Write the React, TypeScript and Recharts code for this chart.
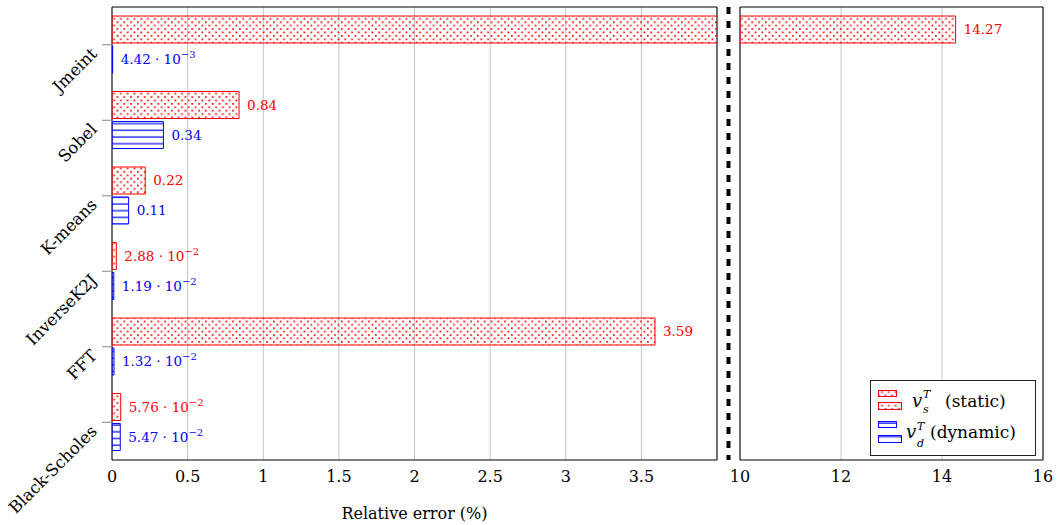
import React from 'react';
import {
  BarChart,
  Bar,
  XAxis,
  YAxis,
  CartesianGrid,
  ReferenceArea,
  LabelList,
  Label,
  Legend,
} from 'recharts';

const benchmarks = ['Jmeint', 'Sobel', 'K-means', 'InverseK2J', 'FFT', 'Black-Scholes'];
const staticErr = [14.27, 0.84, 0.22, 2.88e-2, 3.59, 5.76e-2];
const dynamicErr = [4.42e-3, 0.34, 0.11, 1.19e-2, 1.32e-2, 5.47e-2];
const leftTicks = [0, 0.5, 1, 1.5, 2, 2.5, 3, 3.5];
const rightTicks = [10, 12, 14, 16];

const LEFT_MAX = 4;
const RIGHT_MIN = 10;
const RIGHT_MAX = 16;

const RED = '#ff0000';
const BLUE = '#0000ff';
const GRID = '#c4c4c4';
const FONT = 'DejaVu Serif';

// the right panel only shows what is past the axis break
const leftData = benchmarks.map((name, i) => ({
  name,
  static: staticErr[i],
  dynamic: dynamicErr[i],
}));
const rightData = benchmarks.map((name, i) => ({
  name,
  static: staticErr[i] > RIGHT_MIN ? staticErr[i] : null,
  dynamic: dynamicErr[i] > RIGHT_MIN ? dynamicErr[i] : null,
}));

function ValueText({ value }: { value: number }) {
  if (value >= 0.1) return <>{value.toFixed(2)}</>;
  const exp = Math.floor(Math.log10(value));
  const mant = (value / Math.pow(10, exp)).toFixed(2);
  return (
    <>
      {mant} · 10
      <tspan dy={-6} fontSize={10}>
        {'\u2212' + -exp}
      </tspan>
    </>
  );
}

const makeLabel = (color: string, max: number) => (props: any) => {
  const { x, y, width, height, value } = props;
  if (value == null || value > max) return null;
  return (
    <text
      x={Number(x) + Number(width) + 8}
      y={Number(y) + Number(height) / 2}
      dy="0.36em"
      fill={color}
      fontSize={13.5}
      fontFamily={FONT}
    >
      <ValueText value={Number(value)} />
    </text>
  );
};

const CategoryTick = (props: any) => {
  const { x, y, payload } = props;
  const tx = x - 2;
  const ty = y + 10;
  return (
    <text
      x={tx}
      y={ty}
      textAnchor="end"
      fontSize={16.5}
      fill="#000"
      fontFamily={FONT}
      transform={`rotate(-45, ${tx}, ${ty})`}
    >
      {payload.value}
    </text>
  );
};

function LegendBox() {
  return (
    <svg width={166} height={76} style={{ display: 'block' }} fontFamily={FONT}>
      <rect x={0.5} y={0.5} width={165} height={75} fill="#fff" stroke="#222" />
      <rect x={8.5} y={10.5} width={18} height={6} fill="url(#dots)" stroke={RED} />
      <rect x={8.5} y={22.5} width={23} height={7} fill="url(#dots)" stroke={RED} />
      <rect x={8.5} y={41.5} width={18} height={6} fill="url(#hlines)" stroke={BLUE} />
      <rect x={8.5} y={55.5} width={23} height={7} fill="url(#hlines)" stroke={BLUE} />
      <text x={42} y={27} fontSize={18} fontStyle="italic" fontFamily={FONT}>v</text>
      <text x={53} y={18} fontSize={11} fontStyle="italic" fontFamily={FONT}>T</text>
      <text x={53} y={33} fontSize={11} fontStyle="italic" fontFamily={FONT}>s</text>
      <text x={75} y={27} fontSize={17} fontFamily={FONT}>(static)</text>
      <text x={36} y={58} fontSize={18} fontStyle="italic" fontFamily={FONT}>v</text>
      <text x={47} y={50} fontSize={11} fontStyle="italic" fontFamily={FONT}>T</text>
      <text x={47} y={67} fontSize={11} fontStyle="italic" fontFamily={FONT}>d</text>
      <text x={60} y={58} fontSize={17} fontFamily={FONT}>(dynamic)</text>
    </svg>
  );
}

const tickStyle = { fill: '#000', fontSize: 16, fontFamily: FONT };

export default function App() {
  return (
    <div
      style={{
        position: 'absolute',
        left: 0,
        top: 0,
        width: 1062,
        height: 525,
        background: '#fff',
        fontFamily: FONT,
      }}
    >
      <svg width={0} height={0} style={{ position: 'absolute' }}>
        <defs>
          <pattern id="dots" patternUnits="userSpaceOnUse" width={6.8} height={6.8}>
            <rect x={1} y={1} width={1.7} height={1.7} fill={RED} />
            <rect x={4.4} y={4.4} width={1.7} height={1.7} fill={RED} />
          </pattern>
          <pattern id="hlines" patternUnits="userSpaceOnUse" width={8} height={6.7}>
            <line x1={0} y1={3} x2={8} y2={3} stroke={BLUE} strokeWidth={1.2} />
          </pattern>
        </defs>
      </svg>

      <div style={{ position: 'absolute', left: 0, top: 0 }}>
        <BarChart
          width={730}
          height={525}
          data={leftData}
          layout="vertical"
          margin={{ top: 7, right: 13, bottom: 0, left: 0 }}
          barSize={27}
          barGap={3}
        >
          <CartesianGrid horizontal={false} stroke={GRID} />
          <XAxis
            type="number"
            domain={[0, LEFT_MAX]}
            ticks={leftTicks}
            allowDataOverflow
            height={65}
            axisLine={false}
            tickLine={false}
            tickMargin={5}
            tick={tickStyle}
          >
            <Label
              value="Relative error (%)"
              position="insideBottom"
              offset={6}
              fill="#000"
              fontSize={16}
              fontFamily={FONT}
            />
          </XAxis>
          <YAxis
            type="category"
            dataKey="name"
            width={112}
            axisLine={false}
            tickSize={10}
            tickLine={{ stroke: '#888' }}
            tick={<CategoryTick />}
          />
          <Bar
            dataKey="static"
            fill="url(#dots)"
            stroke={RED}
            isAnimationActive={false}
          >
            <LabelList dataKey="static" content={makeLabel(RED, LEFT_MAX)} />
          </Bar>
          <Bar
            dataKey="dynamic"
            fill="url(#hlines)"
            stroke={BLUE}
            isAnimationActive={false}
          >
            <LabelList dataKey="dynamic" content={makeLabel(BLUE, LEFT_MAX)} />
          </Bar>
          <ReferenceArea x1={0} x2={LEFT_MAX} fill="none" stroke="#000" strokeOpacity={1} />
        </BarChart>
      </div>

      <div style={{ position: 'absolute', left: 730, top: 0 }}>
        <BarChart
          width={332}
          height={525}
          data={rightData}
          layout="vertical"
          margin={{ top: 7, right: 19, bottom: 0, left: 10 }}
          barSize={27}
          barGap={3}
        >
          <CartesianGrid horizontal={false} stroke={GRID} />
          <XAxis
            type="number"
            domain={[RIGHT_MIN, RIGHT_MAX]}
            ticks={rightTicks}
            allowDataOverflow
            height={65}
            axisLine={false}
            tickLine={false}
            tickMargin={5}
            tick={tickStyle}
          />
          <YAxis type="category" dataKey="name" hide />
          <Bar
            dataKey="static"
            fill="url(#dots)"
            stroke={RED}
            isAnimationActive={false}
          >
            <LabelList dataKey="static" content={makeLabel(RED, RIGHT_MAX)} />
          </Bar>
          <Bar
            dataKey="dynamic"
            fill="url(#hlines)"
            stroke={BLUE}
            isAnimationActive={false}
          >
            <LabelList dataKey="dynamic" content={makeLabel(BLUE, RIGHT_MAX)} />
          </Bar>
          <ReferenceArea x1={RIGHT_MIN} x2={RIGHT_MAX} fill="none" stroke="#000" strokeOpacity={1} />
          <Legend
            layout="vertical"
            align="center"
            verticalAlign="middle"
            content={() => <LegendBox />}
            wrapperStyle={{ left: 140, top: 380, width: 166, height: 76 }}
          />
        </BarChart>
      </div>

      {/* axis break marker */}
      <svg width={1062} height={525} style={{ position: 'absolute', left: 0, top: 0, pointerEvents: 'none' }}>
        <line x1={728.5} y1={7} x2={728.5} y2={460} stroke="#000" strokeWidth={4} strokeDasharray="7 7" />
      </svg>
    </div>
  );
}
